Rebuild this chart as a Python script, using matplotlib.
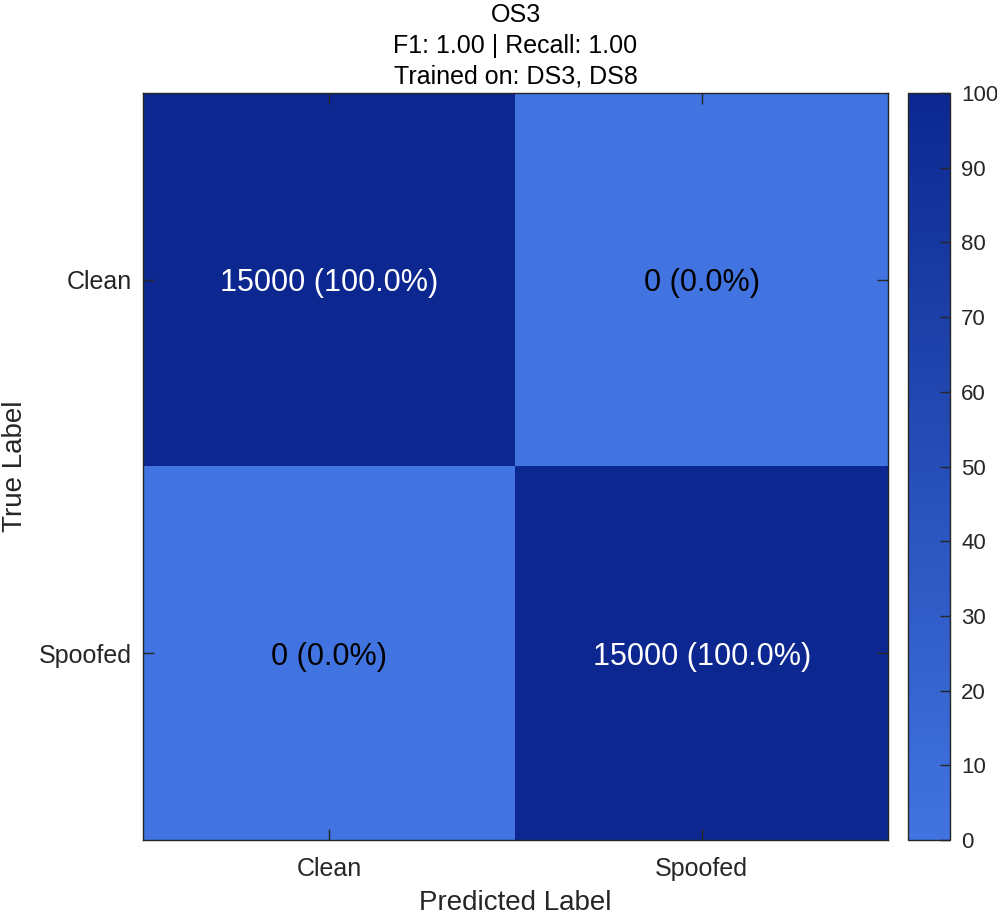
import numpy as np
import matplotlib
matplotlib.use("Agg")
import matplotlib.pyplot as plt
from matplotlib.colors import LinearSegmentedColormap

plt.rcParams['font.family'] = ['Liberation Sans', 'DejaVu Sans']

classes = ["Clean", "Spoofed"]
counts = np.array([[15000, 0], [0, 15000]])
percents = np.array([[100.0, 0.0], [0.0, 100.0]])
title_lines = ["OS3", "F1: 1.00 | Recall: 1.00", "Trained on: DS3, DS8"]

W, H = 997, 915
fig = plt.figure(figsize=(W / 100, H / 100), dpi=100)
ax = fig.add_axes([143 / W, 1 - 840 / H, (888 - 143) / W, (840 - 93) / H])
cax = fig.add_axes([908 / W, 1 - 840 / H, (950 - 908) / W, (840 - 93) / H])

cmap = LinearSegmentedColormap.from_list("mblue", ["#4174e0", "#0c2890"])
im = ax.imshow(percents, cmap=cmap, vmin=0, vmax=100, aspect="auto",
               interpolation="nearest")

for i in range(2):
    for j in range(2):
        col = "white" if percents[i, j] > 50 else "black"
        ax.text(j, i, f"{counts[i, j]} ({percents[i, j]:.1f}%)",
                ha="center", va="center_baseline", fontsize=22, color=col)

ax.set_xticks(range(2))
ax.set_yticks(range(2))
ax.set_xticklabels(classes, fontsize=18, color="#262626")
ax.set_yticklabels(classes, fontsize=18, color="#262626")
ax.tick_params(direction="in", length=8, width=1, top=True, right=True,
               color="#262626")
ax.tick_params(axis="x", pad=12)
ax.tick_params(axis="y", pad=8)
for s in ax.spines.values():
    s.set_color("#262626")
    s.set_linewidth(1)
ax.set_xlabel("Predicted Label", fontsize=20, color="#262626", labelpad=7)
ax.set_ylabel("True Label", fontsize=20, color="#262626", labelpad=8)
ax.set_title("\n".join(title_lines), fontsize=18, color="black", pad=7,
             linespacing=1.34)

cb = fig.colorbar(im, cax=cax)
cb.set_ticks(np.arange(0, 101, 10))
cb.ax.tick_params(direction="in", length=7, width=1, labelsize=16,
                  color="#262626", labelcolor="#262626", pad=8)
cb.outline.set_edgecolor("#262626")
cb.outline.set_linewidth(1)

fig.savefig("out.png", dpi=100)
